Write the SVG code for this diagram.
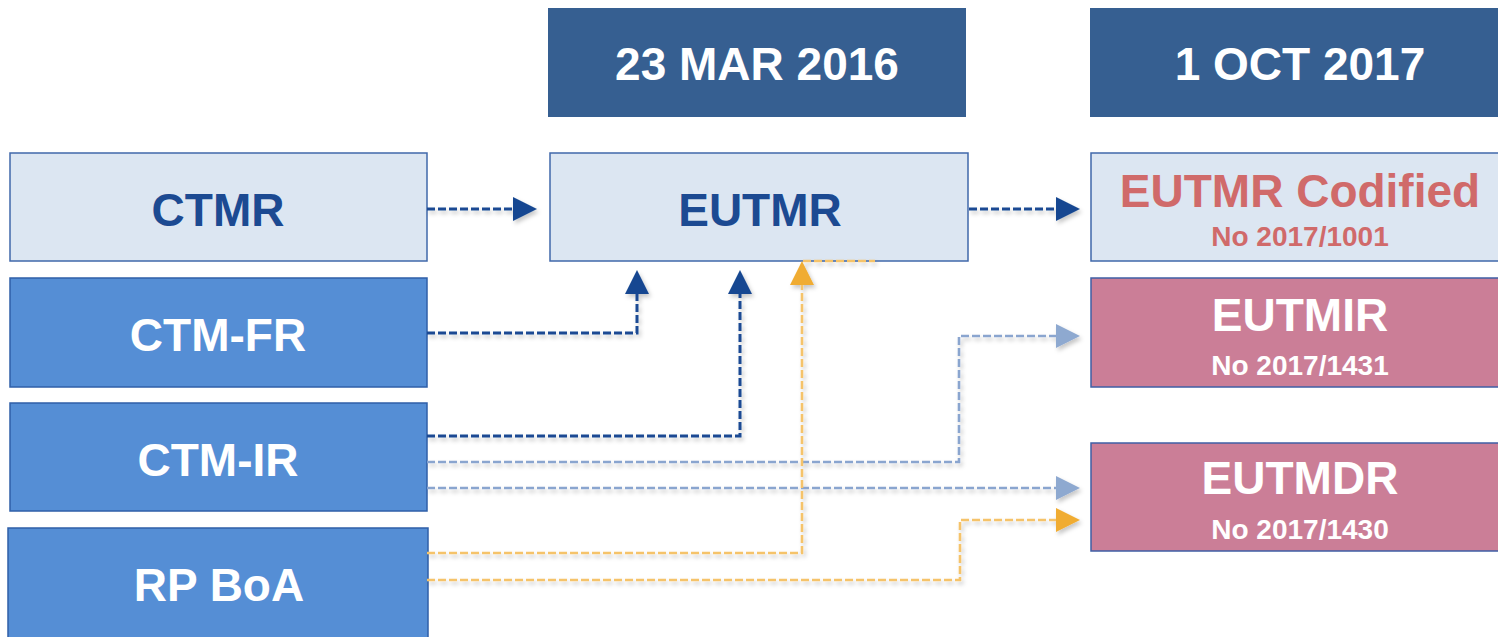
<svg xmlns="http://www.w3.org/2000/svg" width="1498" height="637" viewBox="0 0 1498 637">
<defs>
<style>
.t{font-family:"Liberation Sans",Arial,sans-serif;font-weight:bold;text-anchor:middle}
.big{font-size:46px}
.small{font-size:28px}
.hdr{fill:#365f91}
.light{fill:#dce6f2;stroke:#4068aa;stroke-width:1.5}
.mid{fill:#558ed5;stroke:#2f5fa8;stroke-width:1.5}
.pink{fill:#cb7e97;stroke:#3f5fa5;stroke-width:1.5}
.c{fill:none;stroke-dasharray:8 3}
.dk{stroke:#1b4a93;stroke-width:3}
.lb{stroke:#8aa5cf;stroke-width:2.6}
.yl{stroke:#f5c36a;stroke-width:2.6}
</style>
<marker id="aDk" viewBox="0 0 24 24" refX="0" refY="12" markerWidth="24" markerHeight="24" markerUnits="userSpaceOnUse" orient="auto"><path d="M0,0 L24,12 L0,24 z" fill="#174791"/></marker>
<marker id="aLb" viewBox="0 0 24 24" refX="0" refY="12" markerWidth="24" markerHeight="24" markerUnits="userSpaceOnUse" orient="auto"><path d="M0,0 L24,12 L0,24 z" fill="#8ea9d0"/></marker>
<marker id="aYl" viewBox="0 0 24 24" refX="0" refY="12" markerWidth="24" markerHeight="24" markerUnits="userSpaceOnUse" orient="auto"><path d="M0,0 L24,12 L0,24 z" fill="#f0ac33"/></marker>
<filter id="sh" x="-5%" y="-5%" width="110%" height="110%"><feDropShadow dx="2" dy="3" stdDeviation="2" flood-color="#000" flood-opacity="0.22"/></filter>
</defs>
<rect width="1498" height="637" fill="#ffffff"/>

<g id="hdr1"><rect class="hdr" x="548" y="8" width="418" height="109"/><text class="t big" x="757" y="80" fill="#fff">23 MAR 2016</text></g>
<g id="hdr2"><rect class="hdr" x="1090" y="8" width="418" height="109"/><text class="t big" x="1300" y="80" fill="#fff">1 OCT 2017</text></g>

<g id="ctmr"><rect class="light" x="10" y="153" width="417" height="108"/><text class="t big" x="218" y="226" fill="#1c4a92">CTMR</text></g>
<g id="ctmfr"><rect class="mid" x="10" y="278" width="417" height="109"/><text class="t big" x="218" y="351" fill="#fff">CTM-FR</text></g>
<g id="ctmir"><rect class="mid" x="10" y="403" width="417" height="108"/><text class="t big" x="218" y="476" fill="#fff">CTM-IR</text></g>
<g id="rpboa"><rect class="mid" x="8" y="528" width="420" height="115"/><text class="t big" x="219" y="601" fill="#fff">RP BoA</text></g>
<g id="eutmr"><rect class="light" x="550" y="153" width="418" height="108"/><text class="t big" x="760" y="226" fill="#1c4a92">EUTMR</text></g>
<g id="codified"><rect class="light" x="1091" y="153" width="418" height="108"/><text class="t big" x="1300" y="207" fill="#d06a6a">EUTMR Codified</text><text class="t small" x="1300" y="246" fill="#d06a6a">No 2017/1001</text></g>
<g id="eutmir"><rect class="pink" x="1091" y="278" width="418" height="109"/><text class="t big" x="1300" y="331" fill="#fff">EUTMIR</text><text class="t small" x="1300" y="375" fill="#fff">No 2017/1431</text></g>
<g id="eutmdr"><rect class="pink" x="1091" y="443" width="418" height="108"/><text class="t big" x="1300" y="494" fill="#fff">EUTMDR</text><text class="t small" x="1300" y="539" fill="#fff">No 2017/1430</text></g>

<g id="connectors" filter="url(#sh)">
<path class="c dk" d="M427,209 H513" marker-end="url(#aDk)"/>
<path class="c dk" d="M969,209 H1056" marker-end="url(#aDk)"/>
<path class="c dk" d="M427,333 H637 V294" marker-end="url(#aDk)"/>
<path class="c dk" d="M427,436 H740 V294" marker-end="url(#aDk)"/>
<path class="c lb" d="M427,462 H959 V336 H1056" marker-end="url(#aLb)"/>
<path class="c lb" d="M427,488 H1056" marker-end="url(#aLb)"/>
<path class="c yl" d="M427,553 H802 V285" marker-end="url(#aYl)"/>
<path class="c yl" d="M803,261 H875"/>
<path class="c yl" d="M427,580 H960 V520 H1056" marker-end="url(#aYl)"/>
</g>
</svg>
